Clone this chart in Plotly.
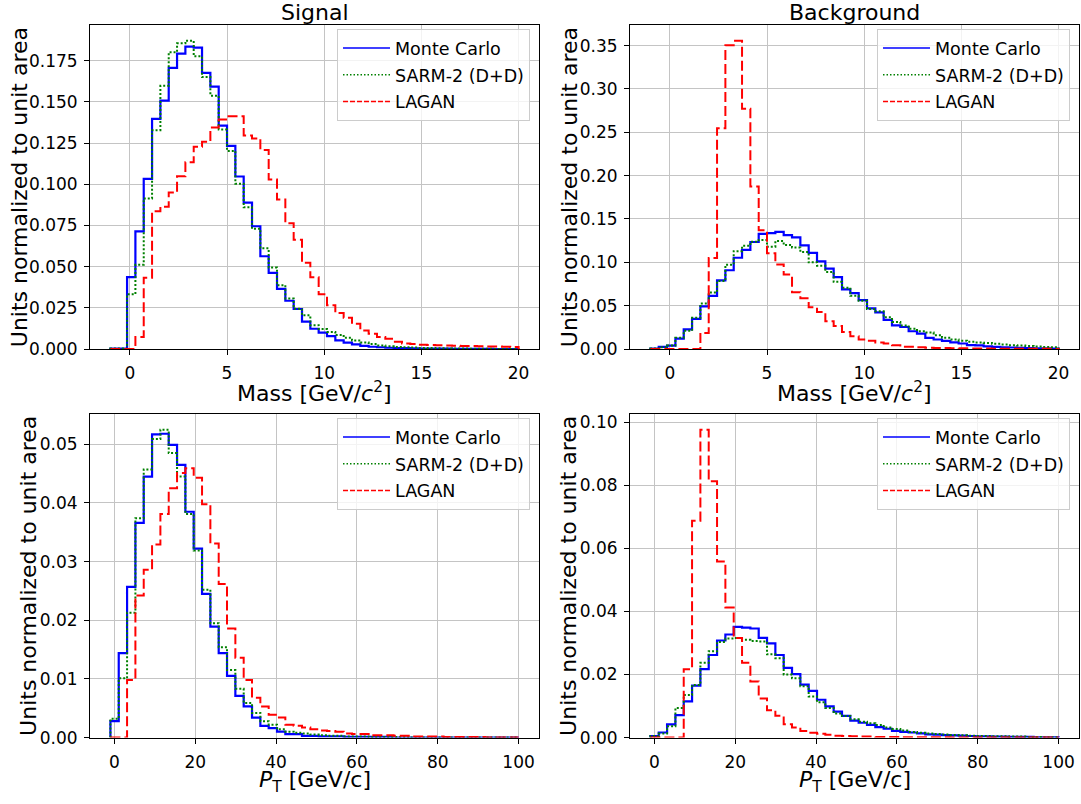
import numpy as np
import plotly.graph_objects as go

# ---------------- data ----------------
mass_edges = np.linspace(-1, 20, 50)
pt_edges = np.linspace(-1, 100, 50)

series_names = ["Monte Carlo", "SARM-2 (D+D)", "LAGAN"]
panel_titles = ["Signal", "Background"]

sig_mass_mc = [
    0.0003, 0.0003, 0.0436, 0.0714, 0.1033, 0.1397, 0.1507, 0.1706, 0.1792, 0.1835,
    0.1829, 0.1676, 0.1592, 0.1356, 0.1233, 0.1047, 0.0888, 0.0745, 0.0563, 0.0462,
    0.0365, 0.0293, 0.0243, 0.0166, 0.0123, 0.0100, 0.0078, 0.0053, 0.0039, 0.0028,
    0.0019, 0.0014, 0.0011, 0.0008, 0.0006, 0.0005, 0.0004, 0.0003, 0.0003, 0.0002,
    0.0002, 0.0001, 0.0001, 0.0001, 0.0001, 0.0001, 0.0000, 0.0000, 0.0000]
sig_mass_sarm = [
    0.0003, 0.0003, 0.0332, 0.0511, 0.0914, 0.1328, 0.1597, 0.1801, 0.1855, 0.1871,
    0.1776, 0.1650, 0.1537, 0.1332, 0.1202, 0.1003, 0.0860, 0.0730, 0.0611, 0.0494,
    0.0387, 0.0307, 0.0245, 0.0205, 0.0145, 0.0121, 0.0104, 0.0085, 0.0068, 0.0052,
    0.0040, 0.0030, 0.0022, 0.0017, 0.0013, 0.0011, 0.0009, 0.0007, 0.0006, 0.0005,
    0.0004, 0.0003, 0.0003, 0.0002, 0.0002, 0.0002, 0.0001, 0.0001, 0.0001]
sig_mass_lagan = [
    0.0000, 0.0000, 0.0000, 0.0073, 0.0432, 0.0836, 0.0864, 0.0950, 0.1049, 0.1133,
    0.1228, 0.1258, 0.1344, 0.1392, 0.1413, 0.1413, 0.1295, 0.1278, 0.1208, 0.1029,
    0.0908, 0.0763, 0.0663, 0.0523, 0.0435, 0.0332, 0.0266, 0.0218, 0.0190, 0.0153,
    0.0113, 0.0093, 0.0073, 0.0063, 0.0044, 0.0034, 0.0030, 0.0026, 0.0025, 0.0023,
    0.0022, 0.0020, 0.0019, 0.0018, 0.0017, 0.0016, 0.0015, 0.0014, 0.0013]

bkg_mass_mc = [
    0.0005, 0.0026, 0.0040, 0.0121, 0.0227, 0.0348, 0.0492, 0.0614, 0.0791, 0.0909,
    0.1053, 0.1144, 0.1235, 0.1328, 0.1336, 0.1352, 0.1314, 0.1288, 0.1195, 0.1110,
    0.1011, 0.0928, 0.0829, 0.0689, 0.0644, 0.0564, 0.0470, 0.0424, 0.0337, 0.0273,
    0.0254, 0.0205, 0.0178, 0.0129, 0.0110, 0.0095, 0.0076, 0.0064, 0.0045, 0.0042,
    0.0030, 0.0025, 0.0020, 0.0018, 0.0014, 0.0012, 0.0009, 0.0007, 0.0005]
bkg_mass_sarm = [
    0.0005, 0.0020, 0.0040, 0.0130, 0.0210, 0.0360, 0.0526, 0.0652, 0.0784, 0.0973,
    0.1129, 0.1191, 0.1238, 0.1257, 0.1180, 0.1246, 0.1200, 0.1170, 0.1120, 0.1000,
    0.0960, 0.0890, 0.0776, 0.0708, 0.0614, 0.0557, 0.0462, 0.0435, 0.0367, 0.0311,
    0.0273, 0.0235, 0.0205, 0.0190, 0.0160, 0.0129, 0.0110, 0.0095, 0.0084, 0.0076,
    0.0069, 0.0060, 0.0053, 0.0045, 0.0040, 0.0035, 0.0030, 0.0025, 0.0022]
bkg_mass_lagan = [
    0.0000, 0.0000, 0.0000, 0.0000, 0.0000, 0.0000, 0.0186, 0.1049, 0.2546, 0.3504,
    0.3557, 0.2773, 0.1875, 0.1371, 0.1106, 0.0976, 0.0859, 0.0655, 0.0587, 0.0481,
    0.0426, 0.0322, 0.0265, 0.0197, 0.0148, 0.0110, 0.0095, 0.0076, 0.0064, 0.0045,
    0.0026, 0.0026, 0.0020, 0.0015, 0.0013, 0.0011, 0.0010, 0.0008, 0.0007, 0.0006,
    0.0005, 0.0004, 0.0004, 0.0003, 0.0003, 0.0002, 0.0002, 0.0002, 0.0001]

sig_pt_mc = [
    0.0028, 0.0144, 0.0257, 0.0366, 0.0445, 0.0517, 0.0518, 0.0499, 0.0465, 0.0385,
    0.0322, 0.0245, 0.0189, 0.0144, 0.0105, 0.0071, 0.0053, 0.0034, 0.0020, 0.0016,
    0.0010, 0.0006, 0.0006, 0.0003, 0.0003, 0.0002, 0.0002, 0.0002, 0.0001, 0.0001,
    0.0001, 0.0001, 0.0001, 0.0001, 0.0000, 0.0000, 0.0000, 0.0000, 0.0000, 0.0000,
    0.0000, 0.0000, 0.0000, 0.0000, 0.0000, 0.0000, 0.0000, 0.0000, 0.0000]
sig_pt_sarm = [
    0.0032, 0.0101, 0.0213, 0.0374, 0.0457, 0.0509, 0.0525, 0.0485, 0.0445, 0.0381,
    0.0319, 0.0252, 0.0195, 0.0154, 0.0115, 0.0083, 0.0059, 0.0042, 0.0028, 0.0022,
    0.0014, 0.0010, 0.0008, 0.0007, 0.0005, 0.0004, 0.0003, 0.0003, 0.0002, 0.0002,
    0.0002, 0.0001, 0.0001, 0.0001, 0.0001, 0.0001, 0.0000, 0.0000, 0.0000, 0.0000,
    0.0000, 0.0000, 0.0000, 0.0000, 0.0000, 0.0000, 0.0000, 0.0000, 0.0000]
sig_pt_lagan = [
    0.0000, 0.0000, 0.0098, 0.0242, 0.0286, 0.0329, 0.0381, 0.0425, 0.0451, 0.0459,
    0.0443, 0.0398, 0.0331, 0.0262, 0.0186, 0.0136, 0.0098, 0.0068, 0.0053, 0.0039,
    0.0034, 0.0022, 0.0020, 0.0017, 0.0014, 0.0012, 0.0011, 0.0010, 0.0007, 0.0006,
    0.0006, 0.0004, 0.0004, 0.0004, 0.0003, 0.0003, 0.0002, 0.0002, 0.0002, 0.0002,
    0.0001, 0.0001, 0.0001, 0.0001, 0.0001, 0.0000, 0.0000, 0.0000, 0.0000]

bkg_pt_mc = [
    0.0005, 0.0016, 0.0042, 0.0071, 0.0115, 0.0165, 0.0217, 0.0262, 0.0308, 0.0327,
    0.0351, 0.0349, 0.0346, 0.0316, 0.0299, 0.0262, 0.0221, 0.0201, 0.0168, 0.0148,
    0.0120, 0.0099, 0.0082, 0.0069, 0.0054, 0.0047, 0.0040, 0.0033, 0.0028, 0.0021,
    0.0018, 0.0016, 0.0013, 0.0010, 0.0009, 0.0008, 0.0007, 0.0006, 0.0005, 0.0004,
    0.0004, 0.0003, 0.0003, 0.0002, 0.0002, 0.0002, 0.0001, 0.0001, 0.0001]
bkg_pt_sarm = [
    0.0005, 0.0013, 0.0036, 0.0094, 0.0135, 0.0167, 0.0237, 0.0274, 0.0303, 0.0314,
    0.0316, 0.0310, 0.0306, 0.0305, 0.0264, 0.0252, 0.0200, 0.0188, 0.0163, 0.0130,
    0.0112, 0.0094, 0.0076, 0.0068, 0.0058, 0.0050, 0.0045, 0.0040, 0.0032, 0.0027,
    0.0022, 0.0018, 0.0015, 0.0013, 0.0011, 0.0010, 0.0008, 0.0007, 0.0006, 0.0005,
    0.0005, 0.0004, 0.0004, 0.0003, 0.0003, 0.0002, 0.0002, 0.0001, 0.0001]
bkg_pt_lagan = [
    0.0000, 0.0000, 0.0000, 0.0000, 0.0217, 0.0688, 0.0977, 0.0813, 0.0559, 0.0413,
    0.0316, 0.0237, 0.0178, 0.0124, 0.0087, 0.0069, 0.0042, 0.0032, 0.0021, 0.0015,
    0.0012, 0.0009, 0.0006, 0.0005, 0.0004, 0.0003, 0.0003, 0.0002, 0.0002, 0.0002,
    0.0001, 0.0001, 0.0001, 0.0001, 0.0001, 0.0001, 0.0000, 0.0000, 0.0000, 0.0000,
    0.0000, 0.0000, 0.0000, 0.0000, 0.0000, 0.0000, 0.0000, 0.0000, 0.0000]

# ---------------- layout helpers ----------------
W, H = 1081, 804
FONT = "DejaVu Sans"

def px(x):
    return x / W

def py(y):
    return 1 - y / H

COLORS = ["#0000ff", "#008000", "#ff0000"]
MAIN_STYLE = [dict(width=2.2, dash="solid"),
              dict(width=2.0, dash="2px,2px"),
              dict(width=2.0, dash="10px,4px")]
LEG_STYLE = [dict(width=1.4, dash="solid"),
             dict(width=1.4, dash="1.5px,2px"),
             dict(width=1.4, dash="5px,2px")]

panels = [
    dict(edges=mass_edges, data=[sig_mass_mc, sig_mass_sarm, sig_mass_lagan],
         dom_x=[90, 539], dom_y=[23.6, 352.3], dtick_x=5, dtick_y=0.025, fmt=".3f"),
    dict(edges=mass_edges, data=[bkg_mass_mc, bkg_mass_sarm, bkg_mass_lagan],
         dom_x=[630, 1079], dom_y=[23.6, 352.3], dtick_x=5, dtick_y=0.05, fmt=".2f"),
    dict(edges=pt_edges, data=[sig_pt_mc, sig_pt_sarm, sig_pt_lagan],
         dom_x=[90, 539], dom_y=[418.5, 746.7], dtick_x=20, dtick_y=0.01, fmt=".2f"),
    dict(edges=pt_edges, data=[bkg_pt_mc, bkg_pt_sarm, bkg_pt_lagan],
         dom_x=[630, 1079], dom_y=[418.5, 746.7], dtick_x=20, dtick_y=0.02, fmt=".2f"),
]

fig = go.Figure()

axis_common = dict(showline=True, linecolor="black", linewidth=1, mirror=True,
                   ticks="outside", ticklen=5, tickwidth=1, tickcolor="black",
                   showgrid=True, gridcolor="#c4c4c4", gridwidth=1, zeroline=False,
                   tickfont=dict(size=17, color="black", family=FONT))

layout_axes = {}
for i, p in enumerate(panels):
    n = "" if i == 0 else str(i + 1)
    xa, ya = "x" + n, "y" + n
    legname = "legend" + n
    edges = p["edges"]
    for j, vals in enumerate(p["data"]):
        v = np.asarray(vals, dtype=float)
        xs = np.concatenate([[edges[0]], edges[:-1], [edges[-1]]])
        ys = np.concatenate([[0.0], v, [0.0]])
        fig.add_trace(go.Scatter(x=xs, y=ys, mode="lines", line_shape="hv",
                                 line=dict(color=COLORS[j], **MAIN_STYLE[j]),
                                 xaxis=xa, yaxis=ya, showlegend=False,
                                 hoverinfo="skip"))
    for j, name in enumerate(series_names):
        fig.add_trace(go.Scatter(x=[None], y=[None], mode="lines", name=name,
                                 line=dict(color=COLORS[j], **LEG_STYLE[j]),
                                 xaxis=xa, yaxis=ya, legend=legname,
                                 legendgroup=f"{legname}_{j}"))
    ymax = 1.05 * max(max(d) for d in p["data"])
    span = edges[-1] - edges[0]
    layout_axes["xaxis" + n] = dict(axis_common, anchor=ya,
                                    domain=[px(p["dom_x"][0]), px(p["dom_x"][1])],
                                    range=[edges[0] - 0.05 * span, edges[-1] + 0.05 * span],
                                    tick0=0, dtick=p["dtick_x"], ticklabelstandoff=4)
    layout_axes["yaxis" + n] = dict(axis_common, anchor=xa,
                                    domain=[py(p["dom_y"][1]), py(p["dom_y"][0])],
                                    range=[0, ymax], tick0=0, dtick=p["dtick_y"],
                                    tickformat=p["fmt"], ticklabelstandoff=3)
    layout_axes[legname] = dict(x=px(p["dom_x"][1] - 9), y=py(p["dom_y"][0] + 4),
                                xanchor="right", yanchor="top",
                                bgcolor="rgba(255,255,255,0.8)", bordercolor="#cccccc",
                                borderwidth=1, tracegroupgap=1, itemwidth=47,
                                font=dict(size=17.5, color="black", family=FONT))

annotations = []
# titles
for t, cx in zip(panel_titles, [314.5, 854.5]):
    annotations.append(dict(text=t, x=px(cx), y=py(11), xref="paper", yref="paper",
                            showarrow=False, xanchor="center", yanchor="middle",
                            font=dict(size=22, color="black", family=FONT)))
# x labels
for cx in [314.5, 854.5]:
    annotations.append(dict(text="Mass [GeV/<i>c</i><sup>2</sup>]", x=px(cx), y=py(396),
                            xref="paper", yref="paper", showarrow=False,
                            xanchor="center", yanchor="middle",
                            font=dict(size=22, color="black", family=FONT)))
    annotations.append(dict(text="<i>P</i><sub>T</sub> [GeV/c]", x=px(cx), y=py(791),
                            xref="paper", yref="paper", showarrow=False,
                            xanchor="center", yanchor="middle",
                            font=dict(size=22, color="black", family=FONT)))
# y labels
for cx, cy in [(19, 188), (569, 188), (29, 582.6), (569, 582.6)]:
    annotations.append(dict(text="Units normalized to unit area", x=px(cx), y=py(cy),
                            xref="paper", yref="paper", showarrow=False, textangle=-90,
                            xanchor="center", yanchor="middle",
                            font=dict(size=22, color="black", family=FONT)))

fig.update_layout(width=W, height=H, margin=dict(l=0, r=0, t=0, b=0),
                  paper_bgcolor="white", plot_bgcolor="white",
                  font=dict(family=FONT, color="black"),
                  annotations=annotations, **layout_axes)

fig.write_html("out.html", config={"displayModeBar": False},
               post_script="document.body.style.margin='0';")
